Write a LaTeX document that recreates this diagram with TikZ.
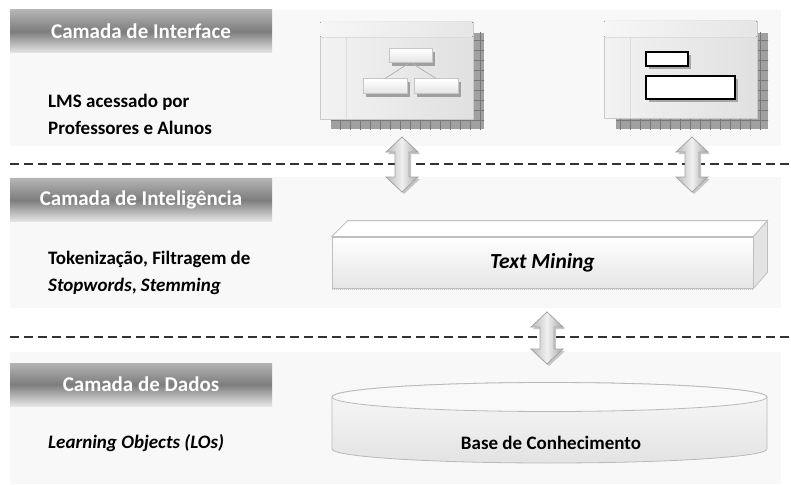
\documentclass[tikz,border=0pt]{standalone}
\usepackage{fontspec}
\setmainfont{Carlito}
\usetikzlibrary{calc}
\definecolor{panelbg}{RGB}{248,248,248}
\definecolor{hdrtop}{RGB}{180,180,180}
\definecolor{hdrmid}{RGB}{125,125,125}
\definecolor{hdrbot}{RGB}{230,230,230}
\definecolor{winedge}{RGB}{200,200,200}
\definecolor{shadowgray}{RGB}{160,160,160}
\definecolor{shadowgrid}{RGB}{120,120,120}
\begin{document}
\begin{tikzpicture}[x=1pt,y=-1pt,
  header/.style={minimum width=262pt, minimum height=43pt, inner sep=0pt,
    top color=hdrtop, bottom color=hdrbot, middle color=hdrmid,
    text=white, font=\fontsize{21}{25}\selectfont\bfseries},
  bodytxt/.style={anchor=west, align=left, inner sep=0pt,
    font=\fontsize{19}{27}\selectfont\bfseries},
  sepline/.style={draw=black!80, line width=1.1pt, dash pattern=on 9pt off 5pt},
  winbox/.style={draw=winedge, line width=0.8pt, inner sep=0pt,
    left color=gray!10, right color=gray!24},
  winline/.style={draw=gray!28, line width=0.8pt},
  chkshadow/.style={fill=shadowgray},
  orgbox/.style={draw=gray!45, line width=1pt, inner sep=0pt,
    top color=white, bottom color=gray!22},
  formbox/.style={draw=black, line width=1.2pt, fill=white, inner sep=0pt},
  arrbody/.style={draw=gray!70, line width=0.8pt,
    left color=gray!55, right color=gray!70, middle color=gray!12},
  pics/dblarr/.style={code={
    \fill[gray!45] (2,-#1+2) -- (18,-#1+17) -- (9,-#1+17) -- (9,#1-13) -- (18,#1-13)
      -- (2,#1+2) -- (-14,#1-13) -- (-5,#1-13) -- (-5,-#1+17) -- (-14,-#1+17) -- cycle;
    \path[arrbody] (0,-#1) -- (16,-#1+15) -- (7,-#1+15) -- (7,#1-15) -- (16,#1-15)
      -- (0,#1) -- (-16,#1-15) -- (-7,#1-15) -- (-7,-#1+15) -- (-16,-#1+15) -- cycle;
  }}
]
\useasboundingbox (0,0) rectangle (791,484);
\fill[white] (0,0) rectangle (791,484);

% layer panels
\fill[panelbg] (10,10) rectangle (781,146);
\fill[panelbg] (10,177) rectangle (781,308);
\fill[panelbg] (10,352) rectangle (781,484);

% layer headers
\node[header] (hInt) at (141,31.5) {Camada de Interface};
\node[header] (hIntel) at (141,200) {Camada de Inteligência};
\node[header] (hDados) at (141,384.5) {Camada de Dados};

% layer descriptions
\node[bodytxt] (dInt) at (48,114.5) {LMS acessado por\\Professores e Alunos};
\node[bodytxt] (dIntel) at (48,273) {Tokenização, Filtragem de\\\textit{Stopwords}, \textit{Stemming}};
\node[bodytxt] (dDados) at (48,443) {\textit{Learning Objects (LOs)}};

% layer separators
\draw[sepline] (10,164) -- (791,164);
\draw[sepline] (10,337) -- (791,337);

% ---- interface window 1: diagram view
\fill[chkshadow] (331,33) rectangle (484,129);
\begin{scope}
  \clip (331,33) rectangle (484,129);
  \draw[shadowgrid, line width=0.5pt, step=10pt] (330,30) grid (490,130);
\end{scope}
\node[winbox, minimum width=153pt, minimum height=97pt] (win1) at (396.5,70.5) {};
\fill[left color=gray!7, right color=gray!20] (320.4,22.4) rectangle (472.6,37);
\draw[winline] (320.4,37) -- (472.6,37);
\draw[winline] (346,37) -- (346,118.6);
% small organisation chart
\foreach \cx/\cy/\w/\h in {410.5/56/43/14, 385/86.5/44/15, 436/86.5/44/15}{
  \fill[shadowgray] (\cx-\w/2+3,\cy-\h/2+3) rectangle (\cx+\w/2+3,\cy+\h/2+3);
}
\node[orgbox, minimum width=43pt, minimum height=14pt] (ob1) at (410.5,56) {};
\node[orgbox, minimum width=44pt, minimum height=15pt] (ob2) at (385,86.5) {};
\node[orgbox, minimum width=44pt, minimum height=15pt] (ob3) at (436,86.5) {};
\draw[gray!60, line width=0.8pt] ([xshift=-2pt]ob1.south) -- (ob2.north);
\draw[gray!60, line width=0.8pt] ([xshift=2pt]ob1.south) -- (ob3.north);

% ---- interface window 2: form view
\fill[chkshadow] (616,33) rectangle (768,129);
\begin{scope}
  \clip (616,33) rectangle (768,129);
  \draw[shadowgrid, line width=0.5pt, step=10pt] (610,30) grid (770,130);
\end{scope}
\node[winbox, minimum width=153pt, minimum height=97pt] (win2) at (680.5,69.5) {};
\fill[left color=gray!7, right color=gray!20] (604.4,21.4) rectangle (756.6,37);
\draw[winline] (604.4,37) -- (756.6,37);
\draw[winline] (630,37) -- (630,117.6);
\fill[gray!70] (649,55) rectangle (691,69);
\fill[gray!70] (649,79) rectangle (738,102);
\node[formbox, minimum width=42pt, minimum height=14pt] (wb1) at (667,59) {};
\node[formbox, minimum width=89pt, minimum height=23pt] (wb2) at (690.5,87.5) {};

% ---- text mining block
\node[draw=gray!50, line width=0.8pt, minimum width=421pt, minimum height=51pt,
  top color=white, bottom color=gray!20, inner sep=0pt,
  font=\fontsize{21.5}{25}\selectfont\bfseries\itshape] (tm) at (542.5,262.5) {Text Mining};
\draw[draw=gray!50, line width=0.8pt, fill=white]
  (tm.north west) -- ++(16,-16) -- ($(tm.north east)+(14,-16)$) -- (tm.north east) -- cycle;
\draw[draw=gray!50, line width=0.8pt, fill=gray!22]
  (tm.north east) -- ++(14,-16) -- ($(tm.south east)+(14,-16)$) -- (tm.south east) -- cycle;
\draw[gray!45, line width=1pt, densely dotted] ([yshift=-1.2pt]tm.south west) -- ([yshift=-1.2pt]tm.south east);

% ---- knowledge base cylinder
\path[draw=gray!55, line width=0.8pt, top color=gray!4, bottom color=gray!22]
  (332,397) -- (332,449) arc[start angle=180, end angle=360, x radius=217.5pt, y radius=14pt]
  -- (767,397) arc[start angle=0, end angle=180, x radius=217.5pt, y radius=14.5pt] -- cycle;
\draw[gray!55, line width=0.8pt, fill=gray!5] (549.5,397) ellipse [x radius=217.5pt, y radius=14.5pt];
\node[inner sep=0pt, font=\fontsize{19}{23}\selectfont\bfseries] (kb) at (551,443) {Base de Conhecimento};

% ---- exchange arrows between the layers
\coordinate (arrA) at (402,164.5);
\coordinate (arrB) at (692,164.5);
\coordinate (arrC) at (547,338);
\pic at (arrA) {dblarr=27.5};
\pic at (arrB) {dblarr=27.5};
\pic at (arrC) {dblarr=26};
\end{tikzpicture}
\end{document}
